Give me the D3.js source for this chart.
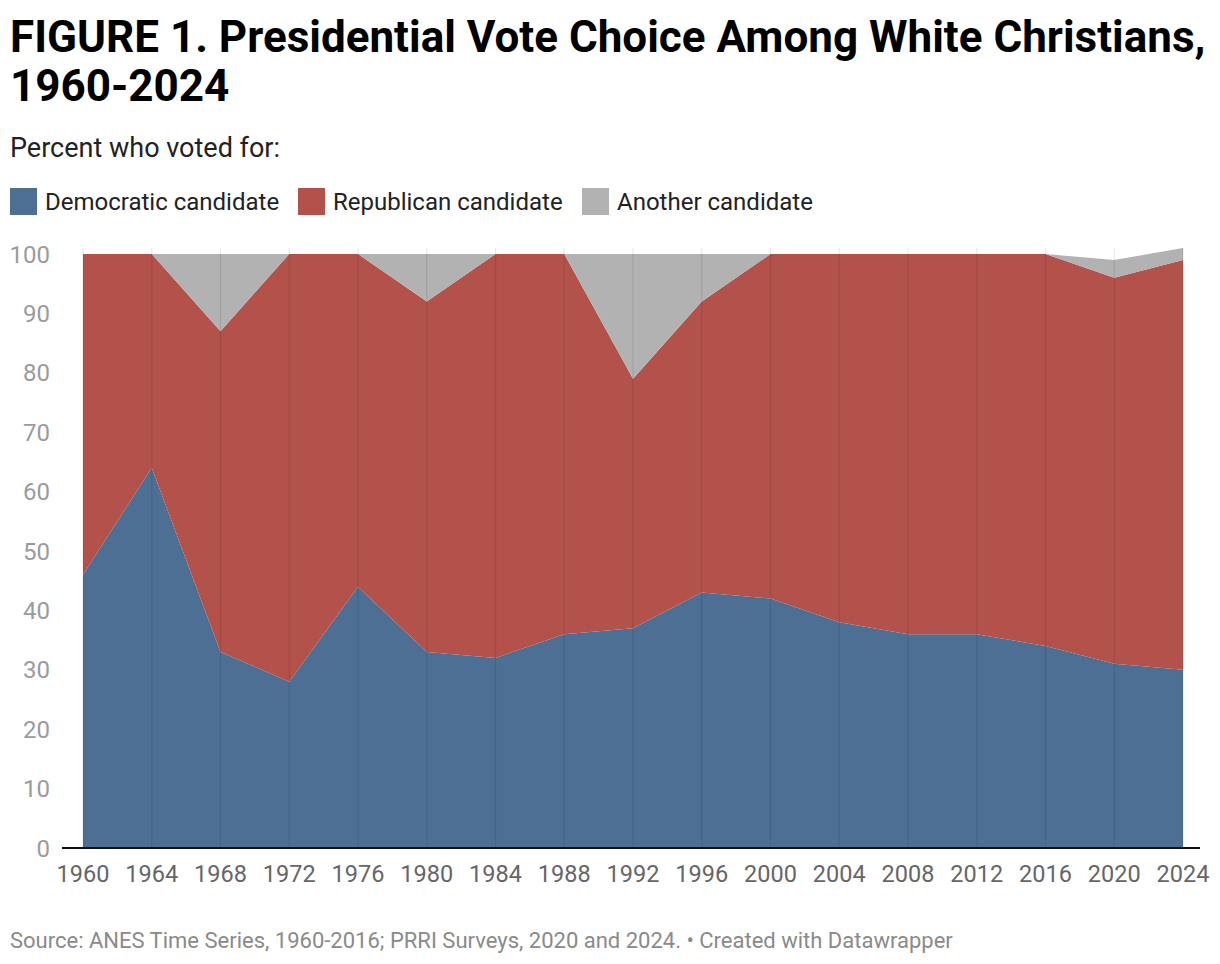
<!DOCTYPE html>
<html>
<head>
<meta charset="utf-8">
<script src="https://cdn.jsdelivr.net/npm/d3@7"></script>
<style>
  body { margin: 0; background: #fff; }
  text { font-family: Roboto, "Noto Sans", sans-serif; }
</style>
</head>
<body>
<svg></svg>
<script>
const width = 1220;
const height = 964;
const margin = { top: 254, right: 37, bottom: 116, left: 83 };

// Data
const years = [1960, 1964, 1968, 1972, 1976, 1980, 1984, 1988, 1992, 1996, 2000, 2004, 2008, 2012, 2016, 2020, 2024];
const democratic = [46, 64, 33, 28, 44, 33, 32, 36, 37, 43, 42, 38, 36, 36, 34, 31, 30];
const republican = [54, 36, 54, 72, 56, 59, 68, 64, 42, 49, 58, 62, 64, 64, 66, 65, 69];
const another = [0, 0, 13, 0, 0, 8, 0, 0, 21, 8, 0, 0, 0, 0, 0, 3, 2];
const yTicks = [0, 10, 20, 30, 40, 50, 60, 70, 80, 90, 100];

const keys = ["Democratic candidate", "Republican candidate", "Another candidate"];
const colors = ["#4c6f93", "#b3514b", "#b2b2b2"];

const rows = years.map((yr, i) => ({
  year: yr,
  "Democratic candidate": democratic[i],
  "Republican candidate": republican[i],
  "Another candidate": another[i],
}));

const svg = d3.select("svg").attr("width", width).attr("height", height);

// Title
svg.append("text")
  .attr("x", 10).attr("y", 52)
  .style("font-size", "44px").style("font-weight", "bold").attr("fill", "#000")
  .text("FIGURE 1. Presidential Vote Choice Among White Christians,");
svg.append("text")
  .attr("x", 10).attr("y", 101)
  .style("font-size", "44px").style("font-weight", "bold").attr("fill", "#000")
  .text("1960-2024");

// Subtitle
svg.append("text")
  .attr("x", 10).attr("y", 157)
  .style("font-size", "27px").attr("fill", "#222")
  .text("Percent who voted for:");

// Legend
const legendX = [10, 298, 582];
const legend = svg.selectAll(".legend")
  .data(keys)
  .join("g")
  .attr("class", "legend")
  .attr("transform", (d, i) => `translate(${legendX[i]},188)`);
legend.append("rect")
  .attr("width", 27).attr("height", 27)
  .attr("fill", (d, i) => colors[i]);
legend.append("text")
  .attr("x", 35).attr("y", 22)
  .style("font-size", "24px").attr("fill", "#222")
  .text((d) => d);

// Scales
const x = d3.scaleLinear()
  .domain([1960, 2024])
  .range([margin.left, width - margin.right]);
const y = d3.scaleLinear()
  .domain([0, 100])
  .range([height - margin.bottom, margin.top]);

// Stacked areas
const stack = d3.stack().keys(keys);
const series = stack(rows);
const area = d3.area()
  .x((d) => x(d.data.year))
  .y0((d) => y(d[0]))
  .y1((d) => y(d[1]));

svg.append("g")
  .selectAll("path")
  .data(series)
  .join("path")
  .attr("d", area)
  .attr("fill", (d, i) => colors[i]);

// Vertical grid lines
svg.append("g")
  .selectAll("line")
  .data(years)
  .join("line")
  .attr("x1", (d) => x(d)).attr("x2", (d) => x(d))
  .attr("y1", y(100) - 6).attr("y2", y(0))
  .attr("stroke", "rgba(0,0,0,0.09)")
  .attr("stroke-width", 1.2);

// Y axis labels
svg.append("g")
  .selectAll("text")
  .data(yTicks)
  .join("text")
  .attr("x", 50)
  .attr("y", (d) => y(d) + 8.5)
  .attr("text-anchor", "end")
  .style("font-size", "24px")
  .attr("fill", "#9b9b9b")
  .text((d) => d);

// Baseline
svg.append("line")
  .attr("x1", 62).attr("x2", width - 20)
  .attr("y1", y(0)).attr("y2", y(0))
  .attr("stroke", "#111").attr("stroke-width", 2);

// X axis labels
svg.append("g")
  .selectAll("text")
  .data(years)
  .join("text")
  .attr("x", (d) => x(d))
  .attr("y", 882)
  .attr("text-anchor", "middle")
  .style("font-size", "23.5px")
  .attr("fill", "#666")
  .text((d) => d);

// Source
svg.append("text")
  .attr("x", 10).attr("y", 948)
  .style("font-size", "22px")
  .attr("fill", "#8a8a8a")
  .text("Source: ANES Time Series, 1960-2016; PRRI Surveys, 2020 and 2024. \u2022 Created with Datawrapper");
</script>
</body>
</html>
